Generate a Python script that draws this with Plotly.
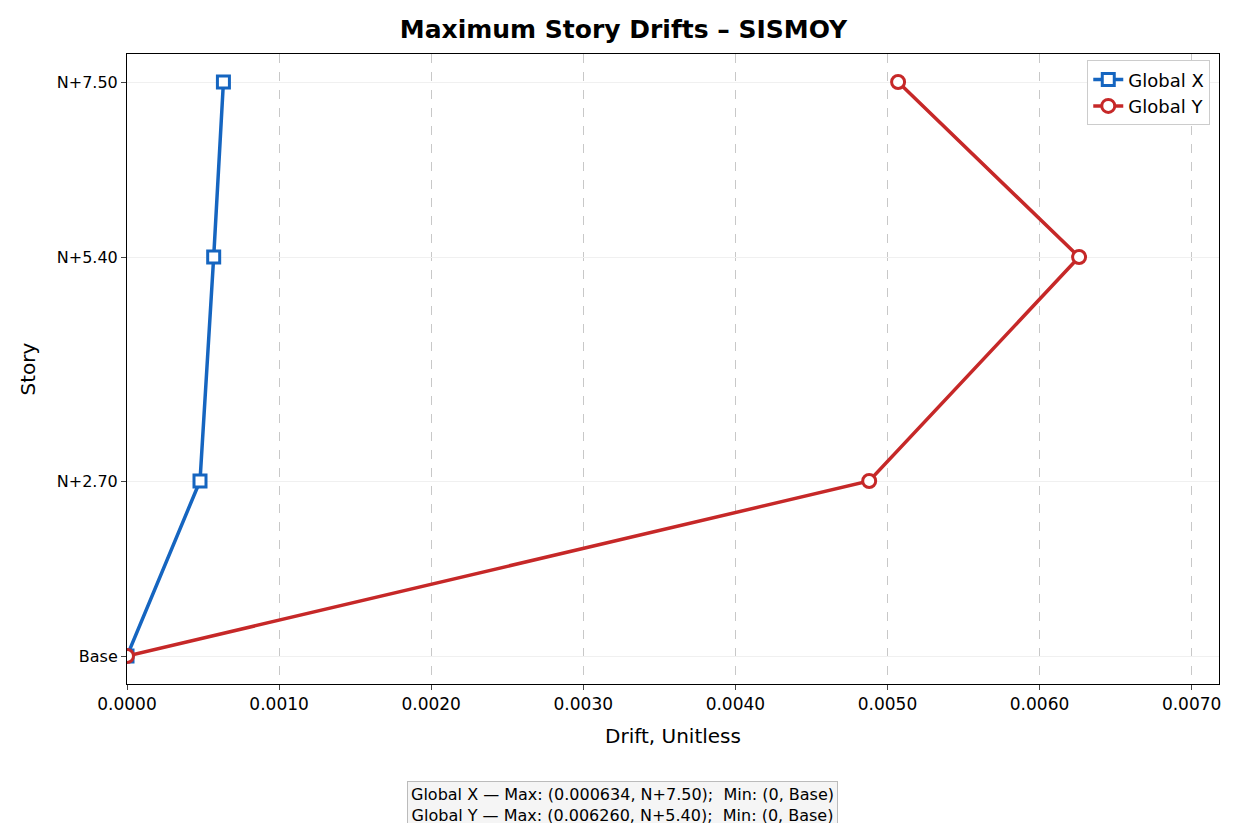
import plotly.graph_objects as go

stories = ["Base", "N+2.70", "N+5.40", "N+7.50"]
story_pos = [0, 1, 2.28, 3.28]
drift_x = [0.0, 0.00048, 0.00057, 0.000634]
drift_y = [0.0, 0.00488, 0.00626, 0.00507]

fig = go.Figure()
fig.add_trace(go.Scatter(x=drift_x, y=story_pos, mode="lines+markers", name="Global X",
    line=dict(color="#1565c0", width=3.5),
    marker=dict(symbol="square", size=12, color="white", line=dict(color="#1565c0", width=3))))
fig.add_trace(go.Scatter(x=drift_y, y=story_pos, mode="lines+markers", name="Global Y",
    line=dict(color="#c62828", width=3.5),
    marker=dict(symbol="circle", size=13, color="white", line=dict(color="#c62828", width=3))))

fig.update_layout(
    width=1231, height=815, plot_bgcolor="white", paper_bgcolor="white",
    margin=dict(l=119, r=20, t=46, b=139),
    font=dict(family="DejaVu Sans", color="black", size=17),
    title=dict(text="<b>Maximum Story Drifts – SISMOY</b>", x=0.5, xanchor="center", y=0.985, font=dict(size=25)),
    xaxis=dict(range=[0, 0.00718], dtick=0.001, tickformat=".4f", showgrid=True,
               gridcolor="#c8c8c8", griddash="dash", showline=True, linecolor="black", mirror=True,
               ticks="outside", zeroline=False, title=dict(text="Drift, Unitless", font=dict(size=20)),
               tickfont=dict(size=17)),
    yaxis=dict(range=[-0.16, 3.44], tickvals=story_pos, ticktext=stories, showgrid=True,
               gridcolor="#f0f0f0", showline=True, linecolor="black", mirror=True,
               ticks="outside", zeroline=False, title=dict(text="Story", font=dict(size=20)),
               tickfont=dict(size=16)),
    legend=dict(x=0.992, y=0.99, xanchor="right", yanchor="top", bordercolor="#cccccc",
                borderwidth=1, bgcolor="white", font=dict(size=18)),
    annotations=[dict(
        text="Global X — Max: (0.000634, N+7.50);  Min: (0, Base)<br>Global Y — Max: (0.006260, N+5.40);  Min: (0, Base)",
        xref="paper", yref="paper", x=(622-127)/1092, y=-(805-684)/630, xanchor="center", yanchor="middle",
        showarrow=False, font=dict(size=16), bgcolor="#f5f5f5", bordercolor="#bbbbbb", borderwidth=1, borderpad=3)]
)
fig.write_html("out.html")
